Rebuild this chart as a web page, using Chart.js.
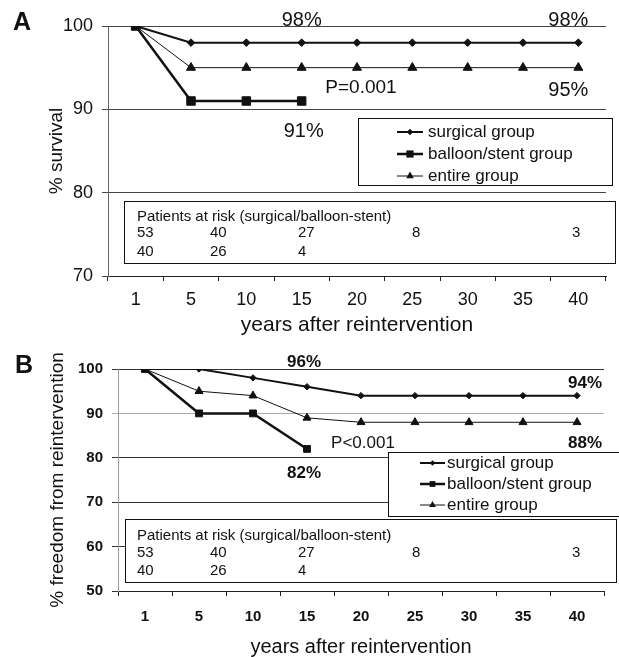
<!DOCTYPE html>
<html>
<head>
<meta charset="utf-8">
<script src="https://cdn.jsdelivr.net/npm/chart.js@4.4.0/dist/chart.umd.min.js"></script>
<style>
  body { margin: 0; background: #fff; }
  #wrap { position: relative; width: 619px; height: 657px; overflow: hidden; }
  canvas { position: absolute; left: 0; }
</style>
</head>
<body>
<div id="wrap">
  <canvas id="chartA" width="619" height="340" style="top:0"></canvas>
  <canvas id="chartB" width="619" height="324" style="top:335px"></canvas>
</div>
<script>
'use strict';

// x categories (years after reintervention)
var years = ['1', '5', '10', '15', '20', '25', '30', '35', '40'];

// A: % survival
var survSurgical = [100, 98, 98, 98, 98, 98, 98, 98, 98];
var survBalloon = [100, 91, 91, 91];
var survEntire = [100, 95, 95, 95, 95, 95, 95, 95, 95];

// B: % freedom from reintervention
var freeSurgical = [100, 100, 98, 96, 94, 94, 94, 94, 94];
var freeBalloon = [100, 90, 90, 82];
var freeEntire = [100, 95, 94, 89, 88, 88, 88, 88, 88];

// patients at risk
var riskSurgical = [53, 40, 27, 8, 3];
var riskBalloon = [40, 26, 4];

var seriesNames = ['surgical group', 'balloon/stent group', 'entire group'];

var FONT = '"Liberation Sans", Arial, sans-serif';
var INK = '#111';

function drawMarker(ctx, style, cx, cy, r) {
  ctx.beginPath();
  if (style === 'rect') {
    var s = r * Math.SQRT1_2;
    ctx.rect(cx - s, cy - s, 2 * s, 2 * s);
  } else if (style === 'rectRot') {
    ctx.moveTo(cx - r, cy);
    ctx.lineTo(cx, cy - r);
    ctx.lineTo(cx + r, cy);
    ctx.lineTo(cx, cy + r);
    ctx.closePath();
  } else {
    var a = 0;
    ctx.moveTo(cx + Math.sin(a) * r, cy - Math.cos(a) * r);
    a += 2 * Math.PI / 3;
    ctx.lineTo(cx + Math.sin(a) * r, cy - Math.cos(a) * r);
    a += 2 * Math.PI / 3;
    ctx.lineTo(cx + Math.sin(a) * r, cy - Math.cos(a) * r);
    ctx.closePath();
  }
  ctx.fill();
}

// panel letter, value notes, legend box and patients-at-risk box
var extrasPlugin = {
  id: 'extras',
  afterDatasetsDraw: function (chart, args, opts) {
    var ctx = chart.ctx;
    var xs = chart.scales.x, ys = chart.scales.y;
    ctx.save();
    ctx.fillStyle = INK;

    ctx.font = 'bold 25px ' + FONT;
    ctx.textAlign = 'left';
    ctx.textBaseline = 'alphabetic';
    ctx.fillText(opts.panel, opts.panelX, opts.panelY);

    ctx.textBaseline = 'middle';
    opts.notes.forEach(function (n) {
      ctx.font = n.font;
      ctx.textAlign = n.align || 'center';
      ctx.fillText(n.text, xs.getPixelForValue(years.indexOf(n.at)) + (n.dx || 0), ys.getPixelForValue(n.value));
    });

    // legend
    var lb = opts.legendBox;
    ctx.fillStyle = '#fff';
    ctx.fillRect(lb.x, lb.y, lb.w, lb.h);
    ctx.strokeStyle = INK;
    ctx.lineWidth = 1;
    ctx.strokeRect(lb.x + 0.5, lb.y + 0.5, lb.w, lb.h);
    chart.data.datasets.forEach(function (ds, i) {
      var ry = lb.rows[i];
      ctx.strokeStyle = INK;
      ctx.lineWidth = ds.borderWidth;
      ctx.beginPath();
      ctx.moveTo(lb.x1, ry);
      ctx.lineTo(lb.x2, ry);
      ctx.stroke();
      ctx.fillStyle = INK;
      drawMarker(ctx, ds.pointStyle, (lb.x1 + lb.x2) / 2, ry, ds.pointRadius * 0.85);
      ctx.font = '17px ' + FONT;
      ctx.textAlign = 'left';
      ctx.fillText(ds.label, lb.tx, ry);
    });

    // patients at risk
    var rb = opts.riskBox;
    ctx.fillStyle = '#fff';
    ctx.fillRect(rb.x, rb.y, rb.w, rb.h);
    ctx.strokeStyle = INK;
    ctx.lineWidth = 1;
    ctx.strokeRect(rb.x + 0.5, rb.y + 0.5, rb.w, rb.h);
    ctx.fillStyle = INK;
    ctx.font = '15px ' + FONT;
    ctx.textAlign = 'left';
    ctx.fillText('Patients at risk (surgical/balloon-stent)', rb.cols[0], rb.rows[0]);
    riskSurgical.forEach(function (v, i) { ctx.fillText(String(v), rb.cols[i], rb.rows[1]); });
    riskBalloon.forEach(function (v, i) { ctx.fillText(String(v), rb.cols[i], rb.rows[2]); });

    ctx.restore();
  }
};

function makeDatasets(s, b, e, sizes) {
  return [
    { label: seriesNames[0], data: s, borderColor: INK, backgroundColor: INK, borderWidth: 2,
      pointStyle: 'rectRot', pointRadius: sizes[0], pointBackgroundColor: INK, pointBorderColor: INK, pointBorderWidth: 1 },
    { label: seriesNames[1], data: b, borderColor: INK, backgroundColor: INK, borderWidth: 2.5,
      pointStyle: 'rect', pointRadius: sizes[1], pointBackgroundColor: INK, pointBorderColor: INK, pointBorderWidth: 1 },
    { label: seriesNames[2], data: e, borderColor: INK, backgroundColor: INK, borderWidth: 1,
      pointStyle: 'triangle', pointRadius: sizes[2], pointBackgroundColor: INK, pointBorderColor: INK, pointBorderWidth: 1 }
  ];
}

// ---- A: survival ----
new Chart(document.getElementById('chartA').getContext('2d'), {
  type: 'line',
  data: { labels: years, datasets: makeDatasets(survSurgical, survBalloon, survEntire, [3.8, 6, 5.2]) },
  plugins: [extrasPlugin],
  options: {
    responsive: false,
    animation: false,
    layout: { padding: { top: 26, right: 13, left: 0, bottom: 0 } },
    elements: { line: { tension: 0 } },
    scales: {
      x: {
        offset: true,
        grid: { offset: true, drawOnChartArea: false, tickLength: 5, color: '#222' },
        border: { color: '#222' },
        ticks: { padding: 8, color: INK, font: { family: FONT, size: 18 }, maxRotation: 0, autoSkip: false },
        title: { display: true, text: 'years after reintervention', color: INK,
          font: { family: FONT, size: 21 }, padding: { top: 0, bottom: 2 } },
        afterFit: function (s) { s.height = 64; }
      },
      y: {
        min: 70, max: 100,
        grid: { color: '#444', tickLength: 6 },
        border: { color: '#666' },
        ticks: { stepSize: 10, padding: 9, color: INK, font: { family: FONT, size: 18 } },
        title: { display: true, text: '% survival', color: INK,
          font: { family: FONT, size: 19 }, padding: { top: 45, bottom: 0 } },
        afterFit: function (s) { s.width = 108; }
      }
    },
    plugins: {
      legend: { display: false },
      tooltip: { enabled: false },
      extras: {
        panel: 'A', panelX: 13, panelY: 30,
        notes: [
          { text: '98%', at: '15', value: 100.7, font: '20px ' + FONT },
          { text: '98%', at: '40', dx: 10, value: 100.7, align: 'right', font: '20px ' + FONT },
          { text: 'P=0.001', at: '20', dx: 4, value: 92.55, font: '19px ' + FONT },
          { text: '95%', at: '40', dx: 10, value: 92.3, align: 'right', font: '20px ' + FONT },
          { text: '91%', at: '15', dx: 2, value: 87.3, font: '20px ' + FONT }
        ],
        legendBox: { x: 358, y: 118, w: 254, h: 67, x1: 397, x2: 423, tx: 428, rows: [132, 154, 176] },
        riskBox: { x: 124, y: 201, w: 491, h: 62, cols: [137, 210, 298, 412, 572], rows: [217, 233, 252] }
      }
    }
  }
});

// ---- B: freedom from reintervention ----
new Chart(document.getElementById('chartB').getContext('2d'), {
  type: 'line',
  data: { labels: years, datasets: makeDatasets(freeSurgical, freeBalloon, freeEntire, [3.2, 4.8, 4.6]) },
  plugins: [extrasPlugin],
  options: {
    responsive: false,
    animation: false,
    layout: { padding: { top: 34, right: 15, left: 0, bottom: 0 } },
    elements: { line: { tension: 0 } },
    scales: {
      x: {
        offset: true,
        grid: { offset: true, drawOnChartArea: false, tickLength: 5, color: '#222' },
        border: { color: '#222' },
        ticks: { padding: 12, color: INK, font: { family: FONT, size: 15, weight: 'bold' }, maxRotation: 0, autoSkip: false },
        title: { display: true, text: 'years after reintervention', color: INK,
          font: { family: FONT, size: 20 }, padding: { top: 0, bottom: 0 } },
        afterFit: function (s) { s.height = 68; }
      },
      y: {
        min: 50, max: 100,
        grid: {
          tickLength: 6,
          color: function (c) { return c.tick && c.tick.value === 90 ? '#aaa' : '#333'; }
        },
        border: { color: '#999' },
        ticks: { stepSize: 10, padding: 9, color: INK, font: { family: FONT, size: 15, weight: 'bold' } },
        title: { display: true, text: '% freedom from reintervention', color: INK,
          font: { family: FONT, size: 19 }, padding: { top: 46, bottom: 0 } },
        afterFit: function (s) { s.width = 118; }
      }
    },
    plugins: {
      legend: { display: false },
      tooltip: { enabled: false },
      extras: {
        panel: 'B', panelX: 15, panelY: 38,
        notes: [
          { text: '96%', at: '15', dx: -3, value: 101.6, font: 'bold 17px ' + FONT },
          { text: '94%', at: '40', dx: 25, value: 96.85, align: 'right', font: 'bold 17px ' + FONT },
          { text: 'P<0.001', at: '20', dx: 2, value: 83.3, font: '17px ' + FONT },
          { text: '88%', at: '40', dx: 25, value: 83.3, align: 'right', font: 'bold 17px ' + FONT },
          { text: '82%', at: '15', dx: -3, value: 76.6, font: 'bold 17px ' + FONT }
        ],
        legendBox: { x: 388, y: 117, w: 240, h: 64, x1: 420, x2: 445, tx: 447, rows: [128, 149, 170] },
        riskBox: { x: 125, y: 184, w: 491, h: 63, cols: [137, 210, 298, 412, 572], rows: [201, 218, 236] }
      }
    }
  }
});
</script>
</body>
</html>
